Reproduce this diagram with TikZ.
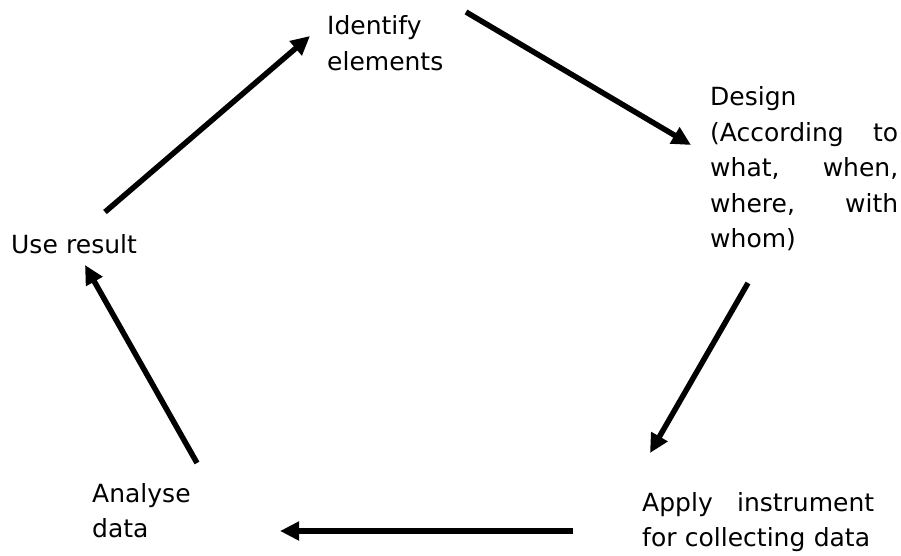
\documentclass[tikz,border=0pt]{standalone}
\usepackage{fontspec}
\setmainfont{DejaVu Sans}
\usetikzlibrary{arrows.meta}
\begin{document}
\begin{tikzpicture}[x=1pt,y=-1pt,
  label/.style={anchor=base west,inner sep=0pt,align=left,
    font=\fontsize{25}{35.5}\selectfont},
  flow/.style={line width=5.5pt,-{Triangle[length=19pt,width=18pt]}}]
\useasboundingbox (0,0) rectangle (901,556);

% stage labels
\node[label,text width=150pt] (ident) at (327,35) {Identify\\elements};
\node[label,text width=188pt] (design) at (710,106)
  {Design\\(According\hfill to\\what,\hfill when,\\where,\hfill with\\whom)};
\node[label,text width=232pt] (apply) at (642,511)
  {Apply\hfill instrument\\for collecting data};
\node[label,text width=120pt] (analyse) at (92,502) {Analyse\\data};
\node[label,text width=140pt] (use) at (11,253) {Use result};

% arrow end points
\coordinate (useOut)     at (105,212);
\coordinate (identIn)    at (310,36);
\coordinate (identOut)   at (466,12);
\coordinate (designIn)   at (691,145);
\coordinate (designOut)  at (748,283);
\coordinate (applyIn)    at (650,453);
\coordinate (applyOut)   at (573,531);
\coordinate (analyseIn)  at (280,531);
\coordinate (analyseOut) at (197,463);
\coordinate (useIn)      at (85,265);

% cycle arrows
\draw[flow] (useOut) -- (identIn);
\draw[flow] (identOut) -- (designIn);
\draw[flow] (designOut) -- (applyIn);
\draw[flow] (applyOut) -- (analyseIn);
\draw[flow] (analyseOut) -- (useIn);
\end{tikzpicture}
\end{document}
